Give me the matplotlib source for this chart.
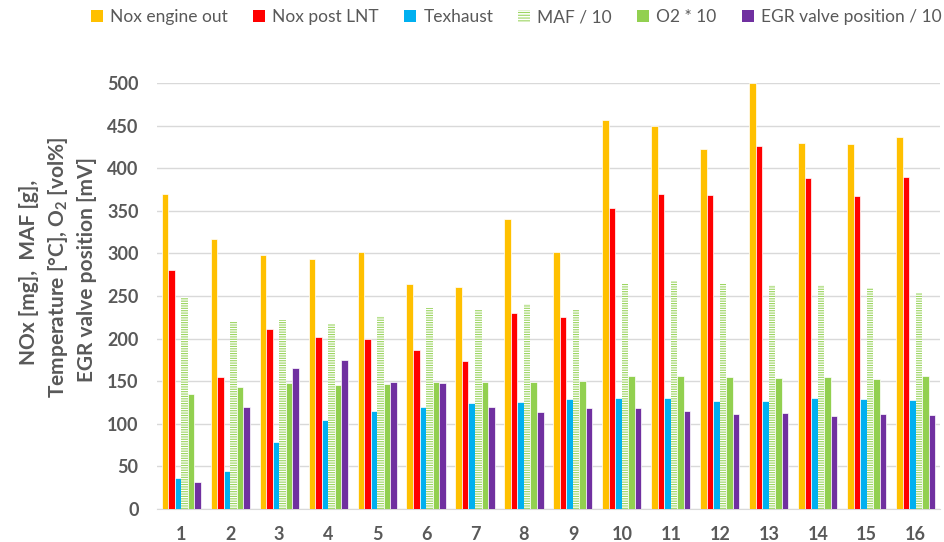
import matplotlib
matplotlib.use("Agg")
import matplotlib.pyplot as plt
from matplotlib.patches import Patch
import numpy as np

plt.rcParams['font.family'] = ['Lato', 'DejaVu Sans']
plt.rcParams['mathtext.default'] = 'regular'
plt.rcParams['hatch.linewidth'] = 0.8

# Data
cases = [str(i) for i in range(1, 17)]
nox_engine_out = [370, 317, 298, 293, 301, 264, 260, 340, 301, 457, 449, 423, 500, 429, 428, 437]
nox_post_lnt = [281, 155, 211, 202, 200, 186, 174, 230, 225, 353, 370, 369, 426, 388, 367, 390]
texhaust = [36, 45, 79, 104, 115, 120, 124, 126, 129, 130, 130, 127, 127, 130, 129, 128]
maf_div10 = [249, 221, 222, 217, 227, 236, 235, 240, 235, 264, 268, 264, 263, 263, 259, 254]
o2_x10 = [135, 143, 148, 146, 147, 149, 149, 149, 150, 156, 156, 155, 154, 155, 152, 156]
egr_div10 = [32, 120, 165, 175, 149, 148, 120, 114, 119, 118, 115, 111, 113, 109, 112, 110]

series = [
    ("Nox engine out", nox_engine_out, "#FFC000"),
    ("Nox post LNT", nox_post_lnt, "#FF0000"),
    ("Texhaust", texhaust, "#00B0F0"),
    ("MAF / 10", maf_div10, "#92D050"),
    ("O2 * 10", o2_x10, "#92D050"),
    ("EGR valve position / 10", egr_div10, "#7030A0"),
]

grey = "#595959"
fig = plt.figure(figsize=(9.44, 5.42), dpi=100)
ax = fig.add_axes([0.166, 0.061, 0.830, 0.786])

x = np.arange(1, len(cases) + 1)
w = 0.133
handles = []
for i, (name, vals, col) in enumerate(series):
    pos = x + (i - 2.5) * w
    if name.startswith("MAF"):
        ax.bar(pos, vals, w, facecolor="white", edgecolor="#9CD561",
               hatch="-------", linewidth=0, zorder=3)
        handles.append(Patch(facecolor="white", edgecolor="#9CD561",
                             hatch="------", linewidth=0, label=name))
    else:
        ax.bar(pos, vals, w, color=col, edgecolor="white", linewidth=0.5, zorder=3)
        handles.append(Patch(facecolor=col, label=name))

ax.set_xlim(0.5, 16.5)
ax.set_ylim(0, 500)
ax.set_yticks(np.arange(0, 501, 50))
ax.set_xticks(x)
ax.set_xticklabels(cases)
ax.grid(axis="y", color="#D9D9D9", linewidth=1, zorder=0)
ax.set_axisbelow(True)
for s in ["top", "right", "left"]:
    ax.spines[s].set_visible(False)
ax.spines["bottom"].set_color("#D9D9D9")
ax.tick_params(length=0, colors=grey, labelsize=13)
ax.tick_params(axis="y", pad=13)
ax.tick_params(axis="x", pad=12)
for lab in ax.get_xticklabels() + ax.get_yticklabels():
    lab.set_fontweight("bold")

# multi-line y axis title
ylines = [("NOx [mg],  MAF [g],", 29, 272),
          ("Temperature [°C], O$_2$ [vol%]", 58, 267),
          ("EGR valve position [mV]", 87, 269)]
for txt, px, py in ylines:
    fig.text(px / 944, 1 - py / 542, txt, rotation=90, ha="center", va="center",
             fontsize=15, fontweight="bold", color=grey)

leg = fig.legend(handles=handles, loc="center", bbox_to_anchor=(0.547, 0.968),
                 ncol=6, frameon=False, fontsize=12.5, handlelength=0.7,
                 handleheight=0.7, handletextpad=0.4, columnspacing=1.45)
for t in leg.get_texts():
    t.set_color(grey)

fig.savefig("out.png", dpi=100)
